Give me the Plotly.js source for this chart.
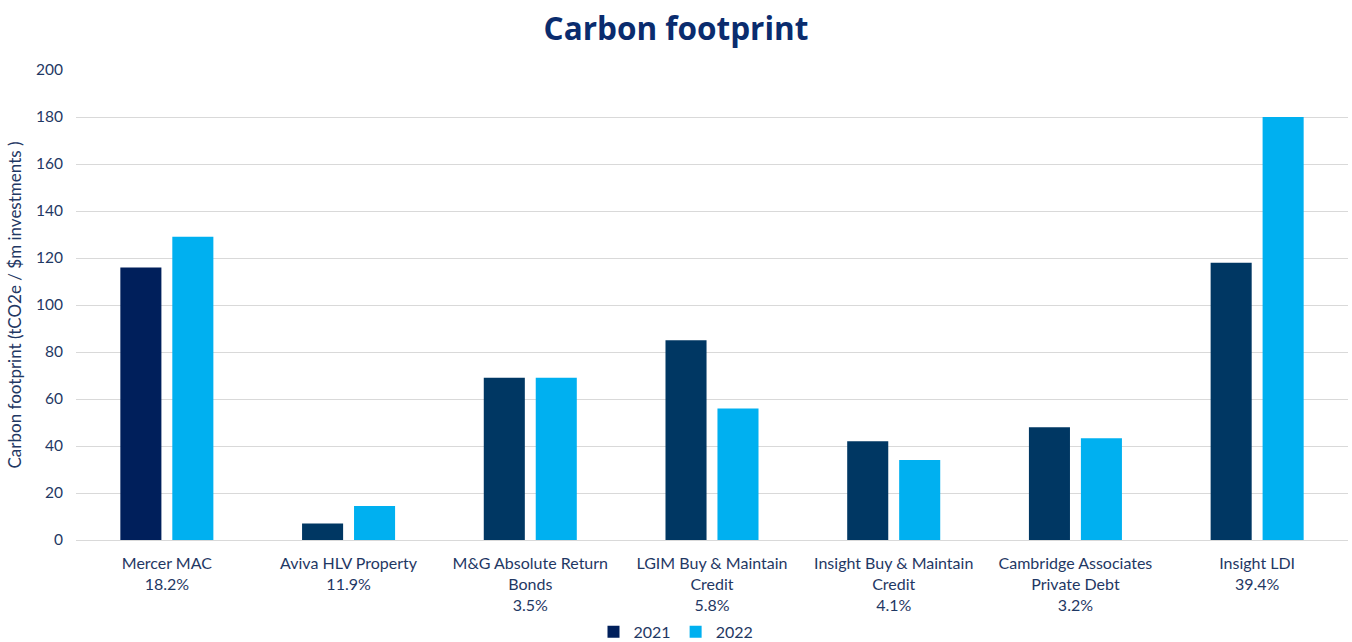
<!DOCTYPE html>
<html>
<head>
<meta charset="utf-8">
<script src="https://cdn.plot.ly/plotly-3.0.1.min.js"></script>
<style>html,body{margin:0;padding:0;background:#fff;}#chart{width:1352px;height:642px;}</style>
</head>
<body>
<div id="chart"></div>
<script>
const categories = [
  "Mercer MAC<br>18.2%",
  "Aviva HLV Property<br>11.9%",
  "M&G Absolute Return<br>Bonds<br>3.5%",
  "LGIM Buy & Maintain<br>Credit<br>5.8%",
  "Insight Buy & Maintain<br>Credit<br>4.1%",
  "Cambridge Associates<br>Private Debt<br>3.2%",
  "Insight LDI<br>39.4%"
];
const values2021 = [116, 7, 69, 85, 42, 48, 118];
const values2022 = [129, 14.5, 69, 56, 34, 43.3, 180];
const seriesNames = ["2021", "2022"];
const yTicks = [0, 20, 40, 60, 80, 100, 120, 140, 160, 180, 200];

const c2021 = "#003763";
const c2021first = "#001F5B";
const c2022 = "#00B0F0";
const txt = "#1F3864";

const traces = [
  {type: "bar", name: seriesNames[0], x: categories, y: values2021,
   marker: {color: values2021.map((v, i) => i === 0 ? c2021first : c2021)}, hoverinfo: "y"},
  {type: "bar", name: seriesNames[1], x: categories, y: values2022,
   marker: {color: c2022}, hoverinfo: "y"}
];

const layout = {
  width: 1352, height: 642,
  margin: {l: 76, r: 4, t: 70, b: 102},
  paper_bgcolor: "#fff", plot_bgcolor: "#fff",
  font: {family: "Lato, 'Noto Sans', sans-serif", size: 16, color: txt},
  title: {text: "<b>Carbon footprint</b>", x: 0.5, xanchor: "center", y: 0.955, yanchor: "middle",
          font: {family: "'Open Sans', sans-serif", size: 31.5, color: "#0A2C6E"}},
  barmode: "group", bargap: 0.428, bargroupgap: 0.21,
  xaxis: {tickfont: {size: 16, color: txt}, showline: false, ticks: "", showgrid: false, automargin: false,
          ticklabelstandoff: 12},
  yaxis: {range: [0, 200], tickvals: yTicks, showgrid: true, gridcolor: "#D9D9D9", gridwidth: 1,
          zeroline: true, zerolinecolor: "#D9D9D9", zerolinewidth: 1, showline: false, ticks: "",
          tickfont: {size: 15.5, color: txt}, ticklabelstandoff: 12, automargin: false,
          title: {text: "Carbon footprint (tCO2e / $m investments )", font: {size: 17, color: txt}, standoff: 10}},
  legend: {orientation: "h", x: 0.5, xanchor: "center", xref: "container", yref: "container", y: 0.016, yanchor: "middle",
           font: {size: 16, color: txt}, itemwidth: 30, tracegroupgap: 0},
  showlegend: true
};

Plotly.newPlot("chart", traces, layout, {displayModeBar: false, staticPlot: true});
</script>
</body>
</html>
